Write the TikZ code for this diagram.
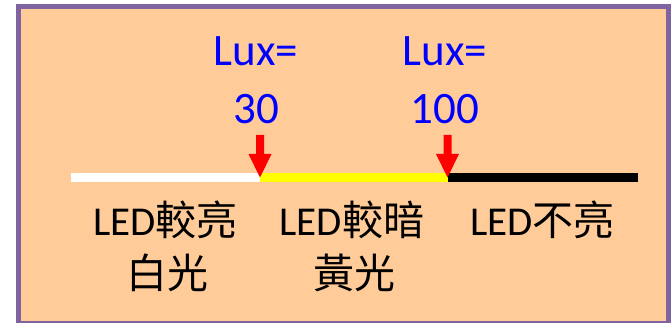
\documentclass[tikz,border=0pt]{standalone}
\usepackage{fontspec}
\setmainfont{Carlito}
\newfontfamily\cjk{Noto Sans CJK TC}
\definecolor{peach}{RGB}{255,204,153}
\definecolor{frame}{RGB}{128,100,162}
\definecolor{luxblue}{RGB}{0,0,255}
\definecolor{arrowred}{RGB}{255,0,0}
\definecolor{stripyellow}{RGB}{255,255,0}
\begin{document}
\begin{tikzpicture}[x=1pt,y=-1pt,
  luxtext/.style={anchor=base,inner sep=0pt,text=luxblue,font=\fontsize{45}{54}\selectfont},
  ledtext/.style={anchor=base,inner sep=0pt,text=black,font=\fontsize{41}{50}\selectfont},
  strip/.style={line width=8.5pt},
  redarrow/.style={fill=arrowred,draw=none}]
\useasboundingbox (0,0) rectangle (671,323);
\fill[white] (0,0) rectangle (671,323);
\draw[fill=peach,draw=frame,line width=5pt] (18.5,6.5) rectangle (668.5,323.5);
% strip
\coordinate (s0) at (70.5,177.5);
\coordinate (s1) at (260,177.5);
\coordinate (s2) at (447.5,177.5);
\coordinate (s3) at (637.5,177.5);
\draw[strip,white] (s0) -- (s1);
\draw[strip,stripyellow] (s1) -- (s2);
\draw[strip,black] (s2) -- (s3);
% arrows
\fill[redarrow] (256,135) -- (264,135) -- (264,154) -- (271.5,154) -- (260,177.5) -- (248.5,154) -- (256,154) -- cycle;
\fill[redarrow] (443.5,135) -- (451.5,135) -- (451.5,154) -- (459,154) -- (447.5,177.5) -- (436,154) -- (443.5,154) -- cycle;
% labels
\node[luxtext] (lux1) at (256,66) {Lux=};
\node[luxtext] (v1) at (256,124) {30};
\node[luxtext] (lux2) at (445,66) {Lux=};
\node[luxtext] (v2) at (445,124) {100};
\node[ledtext] (a1) at (165.5,235) {LED{\cjk 較亮}};
\node[ledtext] (a2) at (167,288) {\cjk 白光};
\node[ledtext] (b1) at (352,235) {LED{\cjk 較暗}};
\node[ledtext] (b2) at (354,288) {\cjk 黃光};
\node[ledtext] (c1) at (542.5,235) {LED{\cjk 不亮}};
\end{tikzpicture}
\end{document}
